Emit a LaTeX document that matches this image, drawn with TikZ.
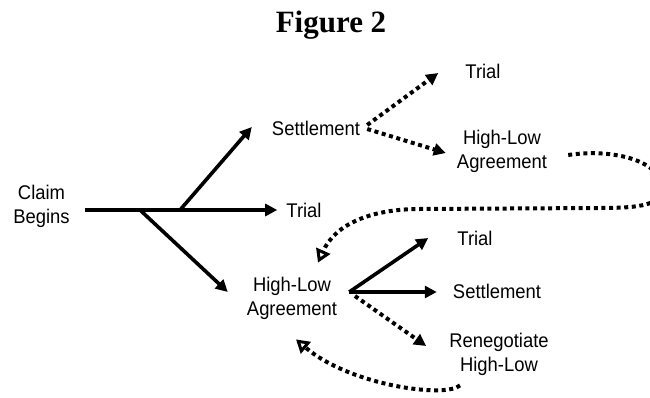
\documentclass[tikz,border=0pt]{standalone}
\usepackage{fontspec}
\setmainfont{Liberation Serif}
\setsansfont{Liberation Sans}[FakeStretch=0.93]
\usetikzlibrary{positioning,arrows.meta}

\begin{document}
\begin{tikzpicture}[x=1pt,y=-1pt,>={Triangle[length=12pt,width=12pt]},
  lbl/.style={font=\sffamily\fontsize{19.8}{24}\selectfont,align=center,inner sep=0pt},
  branch/.style={->,line width=3.6pt},
  dotline/.style={line width=4pt,dash pattern=on 4pt off 3.6pt},
  back/.style={dotline,-{Triangle[open,length=13pt,width=15pt,line width=3pt]}}]
  \useasboundingbox (0,0) rectangle (650,398);
  \clip (0,0) rectangle (650,398);

  \node[font=\bfseries\fontsize{31}{36}\selectfont,anchor=base,inner sep=0pt] (title) at (331,33) {Figure 2};

  \node[lbl] (claim) at (41.5,206) {Claim\\Begins};
  \node[lbl] (trialA) at (304,210) {Trial};
  \node[lbl] (settle) at (316,128) {Settlement};
  \node[lbl] (hlMid) at (292,298) {High-Low\\Agreement};
  \node[lbl] (trialTop) at (483,71) {Trial};
  \node[lbl] (hlTop) at (502,151) {High-Low\\Agreement};
  \node[lbl] (trialR) at (475,238) {Trial};
  \node[lbl] (settleR) at (497,291) {Settlement};
  \node[lbl] (reneg) at (499,354) {Renegotiate\\High-Low};

  \coordinate (forkA) at (140,210);
  \coordinate (forkB) at (180,210);
  \coordinate (forkC) at ([xshift=12pt,yshift=6pt]hlMid.east);

  % claim begins
  \draw[line width=4.5pt,->,shorten <=15pt,shorten >=9pt] (claim.east |- trialA) -- (trialA.west);
  \draw[branch] (forkB) -- ([xshift=-20pt,yshift=1pt]settle.west);
  \draw[branch] (forkA) -- ([xshift=-19pt,yshift=6pt]hlMid.west);

  % after settlement
  \draw[dotline,->] ([xshift=7pt,yshift=3pt]settle.east) -- ([xshift=-27pt,yshift=-2pt]trialTop.west);
  \draw[dotline,->] ([xshift=7pt,yshift=-1pt]settle.east) -- ([xshift=-11pt,yshift=-2pt]hlTop.west);
  \draw[back] ([xshift=21pt,yshift=-4pt]hlTop.east) .. controls +(47,-7) and +(0,-26) .. (662,188)
    .. controls +(0,17) and +(40,0) .. (600,208) -- (420,209)
    .. controls +(-50,0) and +(17,-38) .. ([xshift=26pt,yshift=14pt]hlMid.north);

  % after high-low agreement
  \draw[branch] (forkC) -- ([xshift=-29pt]trialR.west);
  \draw[branch] (forkC) -- ([xshift=-16pt]settleR.west |- forkC);
  \draw[dotline,->,shorten <=7pt] (forkC) -- ([xshift=-23pt,yshift=8pt]reneg.west);
  \draw[back] ([xshift=-39pt,yshift=-10pt]reneg.south) .. controls +(-15,13) and +(54,46) .. ([xshift=4pt,yshift=-20pt]hlMid.south);
\end{tikzpicture}
\end{document}
